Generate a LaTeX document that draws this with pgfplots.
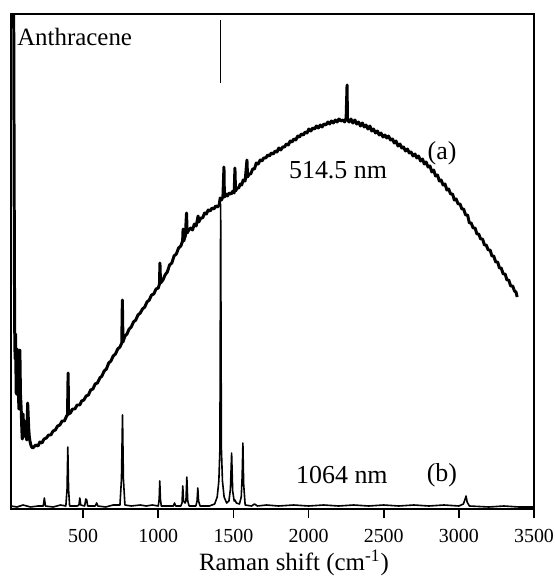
\documentclass[border=0pt]{standalone}
\usepackage{fontspec}
\setmainfont{Liberation Serif}
\usepackage{pgfplots}
\pgfplotsset{compat=1.18}

\begin{document}
\begin{tikzpicture}
\path[use as bounding box] (-5.5bp,-34bp) rectangle (272bp,254.5bp);
\begin{axis}[
  at={(0,0)}, anchor=south west,
  width=261.5bp, height=247.5bp, scale only axis,
  xmin=20, xmax=3500, ymin=0, ymax=495,
  xtick={500,1000,...,3500}, ytick=\empty,
  xtick pos=left, tick align=outside,
  major tick length=4.5bp,
  tick style={black, line width=0.8pt},
  axis line style={line width=0.7pt},
  /pgf/number format/assume math mode=true,
  /pgf/number format/1000 sep={},
  xticklabel style={font=\fontsize{10}{12}\selectfont, yshift=-2bp},
  xlabel={Raman shift (cm\textsuperscript{-1})},
  xlabel style={at={(axis description cs:0.541,0)}, anchor=center, yshift=-27bp,
    font=\fontsize{12.5}{14}\selectfont},
]
% (a) 514.5 nm excitation
\addplot[black, line width=1.5pt, line join=round] coordinates {
(38,495) (41,330) (44,189) (46,160) (48,150) (50,175) (52,149) (55,115) (58,140)
(60,160) (62,125) (65,114) (68,150) (72,100) (75,135) (79,159) (83,115) (88,99)
(92,80) (95,70) (100,95) (104,82) (108,88) (112,80) (116,72) (120,78) (125,69)
(128,90) (131,106) (134,95) (138,80) (142,72) (146,68) (152,64) (158,62) (165,61)
(185,64) (200,63) (212,67) (226,66) (240,70) (255,71) (270,74) (285,74) (300,78)
(315,79) (330,83) (345,84) (360,88) (375,88) (390,93) (396,94) (400,136) (403,95)
(415,96) (430,100) (445,100) (460,104) (478,104) (490,108) (505,109) (520,113)
(535,114) (550,119) (565,120) (580,125) (595,126) (611,131) (625,133) (640,138)
(655,140) (670,146) (685,148) (700,153) (715,155) (730,160) (745,162) (757,166)
(761,209) (765,167) (778,173) (792,175) (806,180) (820,182) (835,187) (850,189)
(865,194) (880,196) (895,200) (910,202) (925,207) (940,209) (955,214) (970,215)
(985,220) (1000,221) (1008,225) (1011,246) (1015,226) (1031,229) (1045,234)
(1060,237) (1075,244) (1090,246) (1105,253) (1120,255) (1135,261) (1150,263)
(1162,268) (1165,280) (1169,268) (1180,273) (1188,296) (1192,276) (1203,279)
(1215,281) (1228,279) (1240,285) (1252,283) (1265,293) (1270,287) (1282,291)
(1295,291) (1308,296) (1320,295) (1332,299) (1345,298) (1358,301) (1370,300)
(1382,303) (1395,302) (1405,304) (1412,311) (1420,309) (1430,312) (1437,342)
(1440,312) (1450,315) (1460,313) (1472,316) (1485,315) (1497,318) (1505,316)
(1510,341) (1514,318) (1525,321) (1535,321) (1545,325) (1555,324) (1565,329)
(1578,328) (1590,349) (1594,332) (1605,335) (1615,335) (1628,340) (1640,340)
(1652,346) (1665,345) (1678,349) (1690,348) (1702,351) (1715,351) (1728,354)
(1740,353) (1752,356) (1765,355) (1778,358) (1790,357) (1802,361) (1815,359)
(1828,362) (1840,362) (1852,365) (1865,364) (1878,368) (1890,367) (1902,370)
(1915,369) (1928,373) (1940,372) (1952,375) (1965,374) (1978,377) (1990,376)
(2002,380) (2015,378) (2028,381) (2040,380) (2052,383) (2065,381) (2078,384)
(2090,382) (2102,385) (2115,384) (2128,387) (2140,385) (2152,388) (2165,386)
(2178,389) (2190,387) (2202,390) (2215,388) (2228,389) (2240,387) (2250,391)
(2256,424) (2259,389) (2270,387) (2282,390) (2295,386) (2308,389) (2320,385)
(2332,387) (2345,383) (2358,386) (2370,382) (2382,384) (2395,380) (2408,383)
(2420,378) (2432,380) (2445,376) (2458,378) (2470,374) (2482,376) (2495,372)
(2508,374) (2520,371) (2532,373) (2545,369) (2558,370) (2570,366) (2582,368)
(2595,363) (2608,365) (2620,361) (2632,362) (2645,358) (2658,360) (2670,356)
(2682,357) (2695,353) (2708,355) (2720,351) (2732,353) (2745,348) (2758,350)
(2770,345) (2782,347) (2795,342) (2808,343) (2820,337) (2832,339) (2845,333)
(2858,334) (2870,328) (2882,329) (2895,324) (2908,325) (2920,319) (2932,320)
(2945,315) (2958,315) (2970,309) (2982,310) (2995,305) (3008,305) (3020,300)
(3032,300) (3045,294) (3058,294) (3070,286) (3082,286) (3095,281) (3108,281)
(3120,275) (3132,275) (3145,270) (3158,270) (3170,264) (3182,264) (3195,259)
(3208,259) (3220,253) (3232,253) (3245,247) (3258,247) (3270,241) (3282,241)
(3295,235) (3308,235) (3320,229) (3332,229) (3345,223) (3358,223) (3370,218)
(3380,217) (3388,212)
};
% (b) 1064 nm excitation
\addplot[black, line width=0.8pt, line join=round] coordinates {
(20,3) (60,2) (100,4) (150,2) (200,3) (235,3) (242,11) (249,3) (300,2) (350,4)
(385,3) (393,20) (398,62) (403,20) (410,3) (460,3) (472,4) (478,11) (484,4)
(510,3) (518,10) (524,9) (530,3) (580,3) (590,6) (598,3) (650,2) (700,4)
(745,4) (755,30) (762,94) (768,30) (778,4) (820,3) (880,4) (920,3) (960,4)
(1000,3) (1006,10) (1010,28) (1014,10) (1020,3) (1060,3) (1100,3) (1108,6)
(1116,3) (1150,3) (1158,6) (1163,23) (1168,8) (1178,6) (1184,8) (1190,32)
(1196,8) (1205,3) (1250,3) (1258,8) (1263,21) (1268,8) (1278,3) (1340,3)
(1375,5) (1392,12) (1403,28) (1410,60) (1415,305) (1420,60) (1427,28)
(1438,12) (1455,6) (1470,8) (1480,20) (1488,56) (1495,18) (1505,8) (1510,9)
(1520,6) (1540,5) (1552,12) (1558,32) (1563,66) (1568,25) (1578,4) (1620,3)
(1640,5) (1660,3) (1720,4) (1800,3) (1900,4) (2000,3) (2100,4) (2200,3)
(2300,4) (2400,3) (2500,4) (2600,3) (2700,4) (2800,3) (2900,4) (3000,3)
(3030,5) (3042,10) (3048,13) (3055,7) (3070,3) (3200,2) (3300,3) (3400,2)
(3500,2)
};
\addplot[black, line width=0.8pt] coordinates {(1415,489) (1415,426)};
\node[anchor=west, inner sep=0, font=\fontsize{12.5}{14}\selectfont] at (axis cs:59,472) {Anthracene};
\node[font=\fontsize{13}{15}\selectfont] at (axis cs:2196,339) {514.5 nm};
\node[font=\fontsize{13}{15}\selectfont] at (axis cs:2888,356) {(a)};
\node[font=\fontsize{13}{15}\selectfont] at (axis cs:2222,34) {1064 nm};
\node[font=\fontsize{13}{15}\selectfont] at (axis cs:2887,34) {(b)};
\end{axis}
\end{tikzpicture}
\end{document}
